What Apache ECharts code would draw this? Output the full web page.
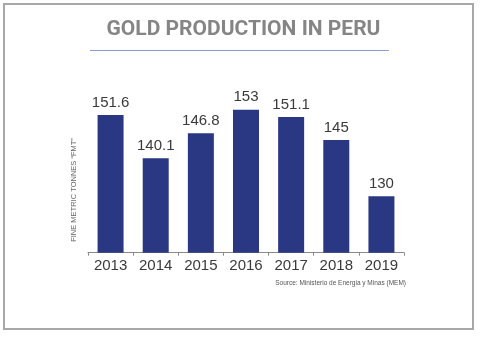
<!DOCTYPE html>
<html>
<head>
<meta charset="utf-8">
<script src="https://cdn.jsdelivr.net/npm/echarts@6/dist/echarts.min.js"></script>
<style>html,body{margin:0;padding:0;background:#fff}#c{width:487px;height:339px}</style>
</head>
<body>
<div id="c"></div>
<script>
const titleText = 'GOLD PRODUCTION IN PERU';
const years = ['2013', '2014', '2015', '2016', '2017', '2018', '2019'];
const production = [151.6, 140.1, 146.8, 153, 151.1, 145, 130];
const yAxisTitle = 'FINE METRIC TONNES \u201CFMT\u201D';
const sourceText = 'Source: Ministerio de Energia y Minas (MEM)';

const chart = echarts.init(document.getElementById('c'), null, {renderer: 'canvas'});
chart.setOption({
  backgroundColor: '#fff',
  animation: false,
  title: {
    text: titleText,
    left: 'center',
    top: 14,
    textStyle: {fontFamily: 'Roboto', fontWeight: 'bold', fontSize: 21, color: '#858585'}
  },
  grid: {left: 88, right: 83, top: 83.5, bottom: 86.3},
  xAxis: {
    type: 'category',
    data: years,
    axisLine: {lineStyle: {color: '#8a8a8a', width: 1}},
    axisTick: {show: true, length: 3, lineStyle: {color: '#8a8a8a'}},
    axisLabel: {margin: 6, fontFamily: 'Liberation Sans', fontSize: 15, color: '#3a3a3a'}
  },
  yAxis: {
    type: 'value',
    min: 115,
    max: 160,
    show: false,
    splitLine: {show: false}
  },
  series: [{
    type: 'bar',
    data: production,
    barWidth: 26,
    itemStyle: {color: '#2a3884'},
    label: {
      show: true,
      position: 'top',
      distance: 5,
      fontFamily: 'Liberation Sans',
      fontSize: 15,
      color: '#3a3a3a'
    }
  }],
  graphic: [
    {type: 'rect', shape: {x: 4, y: 4, width: 469, height: 325}, style: {fill: 'none', stroke: '#a8a8a8', lineWidth: 2}, silent: true},
    {type: 'line', shape: {x1: 90, y1: 50.5, x2: 389, y2: 50.5}, style: {stroke: '#8a9ad2', lineWidth: 1}, silent: true},
    {type: 'text', x: 74, y: 190, rotation: Math.PI / 2, style: {text: yAxisTitle, fontFamily: 'Liberation Sans', fontSize: 7.5, fill: '#666', align: 'center', verticalAlign: 'middle'}},
    {type: 'text', x: 406, y: 283, style: {text: sourceText, fontFamily: 'Liberation Sans', fontSize: 6.5, fill: '#555', align: 'right', verticalAlign: 'middle'}}
  ]
});
</script>
</body>
</html>
